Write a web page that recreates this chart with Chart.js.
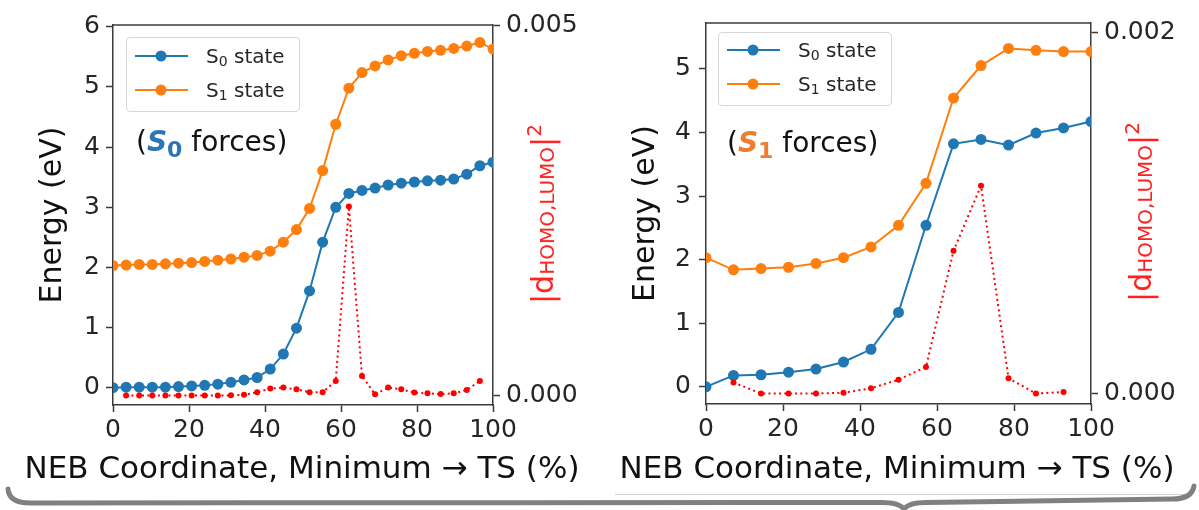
<!DOCTYPE html>
<html>
<head>
<meta charset="utf-8">
<script src="https://cdn.jsdelivr.net/npm/chart.js@4.4.1/dist/chart.umd.min.js"></script>
<style>
  body { margin: 0; background: #fff; }
  #page { position: relative; width: 1199px; height: 510px; overflow: hidden; background: #fff; font-family: "DejaVu Sans", sans-serif; }
  canvas { position: absolute; top: 0; }
  .legend { position: absolute; border: 1px solid #d6d6d6; border-radius: 4px; background: rgba(255,255,255,0.8); box-sizing: border-box; }
  .legend svg { position: absolute; }
  .legend .lab { position: absolute; font-size: 20px; line-height: 20px; color: #262626; white-space: nowrap; }
  .legend .lab sub { font-size: 14px; vertical-align: -3px; line-height: 0; }
  .note { position: absolute; font-size: 28px; line-height: 28px; color: #111; white-space: nowrap; }
  .note b { font-style: italic; }
  .note sub { font-size: 22px; font-style: normal; vertical-align: -6px; line-height: 0; }
  .xtitle { position: absolute; top: 452px; transform: translateX(-50%); font-size: 31px; line-height: 31px; color: #111; white-space: nowrap; }
  .rtitle { position: absolute; transform: translate(-50%, -50%) rotate(-90deg); color: #ff2020; font-size: 30px; line-height: 30px; white-space: nowrap; }
  .rtitle sub { font-size: 20px; vertical-align: -1px; line-height: 0; }
  .rtitle sup { font-size: 20px; vertical-align: 12px; line-height: 0; }
  #brace { position: absolute; left: 0; top: 0; }
</style>
</head>
<body>
<div id="page">
  <canvas id="chartS0" width="605" height="495" style="left:0px"></canvas>
  <canvas id="chartS1" width="599" height="495" style="left:600px"></canvas>

  <div class="legend" style="left:126px; top:37px; width:174px; height:75px">
    <svg width="60" height="14" style="left:8px; top:11px"><line x1="0" y1="7" x2="53" y2="7" stroke="#1f77b4" stroke-width="2"/><circle cx="26" cy="7" r="5.5" fill="#1f77b4"/></svg>
    <div class="lab" style="left:79px; top:8px">S<sub>0</sub> state</div>
    <svg width="60" height="14" style="left:8px; top:45px"><line x1="0" y1="7" x2="53" y2="7" stroke="#ff7f0e" stroke-width="2"/><circle cx="26" cy="7" r="5.5" fill="#ff7f0e"/></svg>
    <div class="lab" style="left:79px; top:42px">S<sub>1</sub> state</div>
  </div>
  <div class="note" style="left:136px; top:128px">(<b style="color:#2e75b6">S<sub>0</sub></b> forces)</div>
  <div class="rtitle" style="left:543px; top:214px">|d<sub>HOMO,LUMO</sub>|<sup>2</sup></div>
  <div class="xtitle" style="left:302px">NEB Coordinate, Minimum &#8594; TS (%)</div>

  <div class="legend" style="left:718px; top:32px; width:174px; height:74px">
    <svg width="60" height="14" style="left:8px; top:10px"><line x1="0" y1="7" x2="53" y2="7" stroke="#1f77b4" stroke-width="2"/><circle cx="26" cy="7" r="5.5" fill="#1f77b4"/></svg>
    <div class="lab" style="left:79px; top:7px">S<sub>0</sub> state</div>
    <svg width="60" height="14" style="left:8px; top:44px"><line x1="0" y1="7" x2="53" y2="7" stroke="#ff7f0e" stroke-width="2"/><circle cx="26" cy="7" r="5.5" fill="#ff7f0e"/></svg>
    <div class="lab" style="left:79px; top:41px">S<sub>1</sub> state</div>
  </div>
  <div class="note" style="left:727px; top:129px">(<b style="color:#ed7d31">S<sub>1</sub></b> forces)</div>
  <div class="rtitle" style="left:1141px; top:212px">|d<sub>HOMO,LUMO</sub>|<sup>2</sup></div>
  <div class="xtitle" style="left:897px">NEB Coordinate, Minimum &#8594; TS (%)</div>

  <svg id="brace" width="1199" height="510">
    <line x1="615" y1="494.5" x2="1190" y2="494.5" stroke="#d4d4d4" stroke-width="1"/>
    <path d="M 8 489 Q 9 503 30 503 L 882 502.5 Q 899 502.5 904 509 Q 909 502.5 926 502.5 L 1172 499 Q 1192 499 1194 486"
          fill="none" stroke="#808080" stroke-width="5" stroke-linecap="round" stroke-linejoin="round"/>
  </svg>
</div>

<script>
"use strict";

// left panel: NEB path driven by S0 forces (30 images)
const xS0path = [0, 3.45, 6.90, 10.34, 13.79, 17.24, 20.69, 24.14, 27.59, 31.03,
  34.48, 37.93, 41.38, 44.83, 48.28, 51.72, 55.17, 58.62, 62.07, 65.52,
  68.97, 72.41, 75.86, 79.31, 82.76, 86.21, 89.66, 93.10, 96.55, 100];
const s0OnS0path = [0.00, 0.01, 0.01, 0.01, 0.01, 0.02, 0.03, 0.04, 0.06, 0.09,
  0.13, 0.17, 0.31, 0.56, 0.99, 1.61, 2.42, 3.00, 3.23, 3.28,
  3.32, 3.37, 3.40, 3.42, 3.44, 3.45, 3.47, 3.55, 3.69, 3.75];
const s1OnS0path = [2.03, 2.04, 2.05, 2.05, 2.06, 2.07, 2.08, 2.10, 2.12, 2.14,
  2.17, 2.20, 2.27, 2.42, 2.63, 2.98, 3.61, 4.38, 4.98, 5.24,
  5.35, 5.45, 5.52, 5.56, 5.59, 5.61, 5.64, 5.68, 5.74, 5.63];
const dOnS0path = [null, 0.000002, 0.000002, 0.000002, 0.000002, 0.000002, 0.000002, 0.000002, 0.000002, 0.000003,
  0.00001, 0.000045, 0.000094, 0.000108, 0.000085, 0.000045, 0.000045, 0.000197, 0.00255, 0.000265,
  0.000018, 0.000108, 0.000085, 0.00004, 0.00003, 0.00002, 0.00003, 0.000076, 0.000197, null];

// right panel: NEB path driven by S1 forces (15 images)
const xS1path = [0, 7.14, 14.29, 21.43, 28.57, 35.71, 42.86, 50, 57.14, 64.29, 71.43, 78.57, 85.71, 92.86, 100];
const s0OnS1path = [0.00, 0.18, 0.19, 0.23, 0.28, 0.39, 0.59, 1.17, 2.54, 3.82, 3.89, 3.80, 3.99, 4.07, 4.17];
const s1OnS1path = [2.03, 1.84, 1.86, 1.88, 1.94, 2.03, 2.20, 2.54, 3.20, 4.54, 5.05, 5.32, 5.29, 5.27, 5.27];
const dOnS1path = [null, 0.000062, 0.000001, 0.000001, 0.000001, 0.000005, 0.00003, 0.000077, 0.000148, 0.00079,
  0.00115, 0.000085, 0.000001, 0.000009, null];

const yTitle = "Energy (eV)";

Chart.defaults.font.family = "'DejaVu Sans', sans-serif";
Chart.defaults.color = "#262626";

const spine = "#3a3a3a";

// matplotlib draws the top spine too, chart.js has no axis there
const topSpine = {
  id: "topSpine",
  afterDraw(chart) {
    const { ctx, chartArea: a } = chart;
    ctx.save();
    ctx.strokeStyle = spine;
    ctx.lineWidth = 1.5;
    ctx.beginPath();
    ctx.moveTo(a.left, a.top);
    ctx.lineTo(a.right, a.top);
    ctx.stroke();
    ctx.restore();
  },
};

function pairs(xs, ys) {
  return xs.map((x, i) => ({ x: x, y: ys[i] }));
}

function axisGrid() {
  return { display: true, drawOnChartArea: false, drawTicks: true, tickLength: 7, tickWidth: 1.5, color: spine };
}

function makeChart(id, xs, s0, s1, d, o) {
  const data = {
    datasets: [
      {
        label: "d",
        data: pairs(xs, d),
        yAxisID: "y2",
        borderColor: "#ff0000",
        backgroundColor: "#ff0000",
        borderWidth: 2,
        borderDash: [2, 3.3],
        pointRadius: 3,
        pointBorderWidth: 0,
        spanGaps: false,
        order: 0,
      },
      {
        label: "S1 state",
        data: pairs(xs, s1),
        yAxisID: "y",
        borderColor: "#ff7f0e",
        backgroundColor: "#ff7f0e",
        borderWidth: 2,
        pointRadius: 5.5,
        pointBorderWidth: 0,
        order: 1,
      },
      {
        label: "S0 state",
        data: pairs(xs, s0),
        yAxisID: "y",
        borderColor: "#1f77b4",
        backgroundColor: "#1f77b4",
        borderWidth: 2,
        pointRadius: 5.5,
        pointBorderWidth: 0,
        order: 2,
      },
    ],
  };

  const config = {
    type: "line",
    data: data,
    plugins: [topSpine],
    options: {
      responsive: false,
      animation: false,
      devicePixelRatio: 1,
      clip: 0,
      tension: 0,
      layout: { padding: { top: o.top, left: 0, right: 0, bottom: 0 } },
      plugins: { legend: { display: false }, tooltip: { enabled: false } },
      scales: {
        x: {
          type: "linear",
          min: 0,
          max: 100,
          ticks: { stepSize: 20, font: { size: 25 }, padding: 3, color: "#262626" },
          grid: axisGrid(),
          border: { display: true, color: spine, width: 1.5 },
          afterFit: (s) => { s.height = o.xh; },
        },
        y: {
          position: "left",
          min: o.ymin,
          max: o.ymax,
          ticks: { stepSize: 1, includeBounds: false, font: { size: 25 }, padding: o.ypad, color: "#262626" },
          grid: axisGrid(),
          border: { display: true, color: spine, width: 1.5 },
          title: { display: true, text: yTitle, font: { size: 30 }, color: "#111", padding: { top: o.ytitle, bottom: 0 } },
          afterFit: (s) => { s.width = o.yw; },
        },
        y2: {
          position: "right",
          min: o.dmin,
          max: o.dmax,
          afterBuildTicks: (s) => { s.ticks = [{ value: 0 }, { value: o.dtop }]; },
          ticks: { font: { size: 25 }, padding: 6, color: "#262626", callback: (v) => v.toFixed(3) },
          grid: axisGrid(),
          border: { display: true, color: spine, width: 1.5 },
          afterFit: (s) => { s.width = o.y2w; },
        },
      },
    },
  };

  return new Chart(document.getElementById(id), config);
}

const leftChart = makeChart("chartS0", xS0path, s0OnS0path, s1OnS0path, dOnS0path, {
  top: 25, xh: 90, yw: 113, y2w: 112, ypad: 6, ytitle: 35,
  ymin: -0.287, ymax: 6.03, dmin: -0.000127, dmax: 0.005, dtop: 0.005,
});

const rightChart = makeChart("chartS1", xS1path, s0OnS1path, s1OnS1path, dOnS1path, {
  top: 10, xh: 91, yw: 106, y2w: 108, ypad: 8, ytitle: 28,
  ymin: -0.27, ymax: 5.72, dmin: -0.000057, dmax: 0.00205, dtop: 0.002,
});
</script>
</body>
</html>
